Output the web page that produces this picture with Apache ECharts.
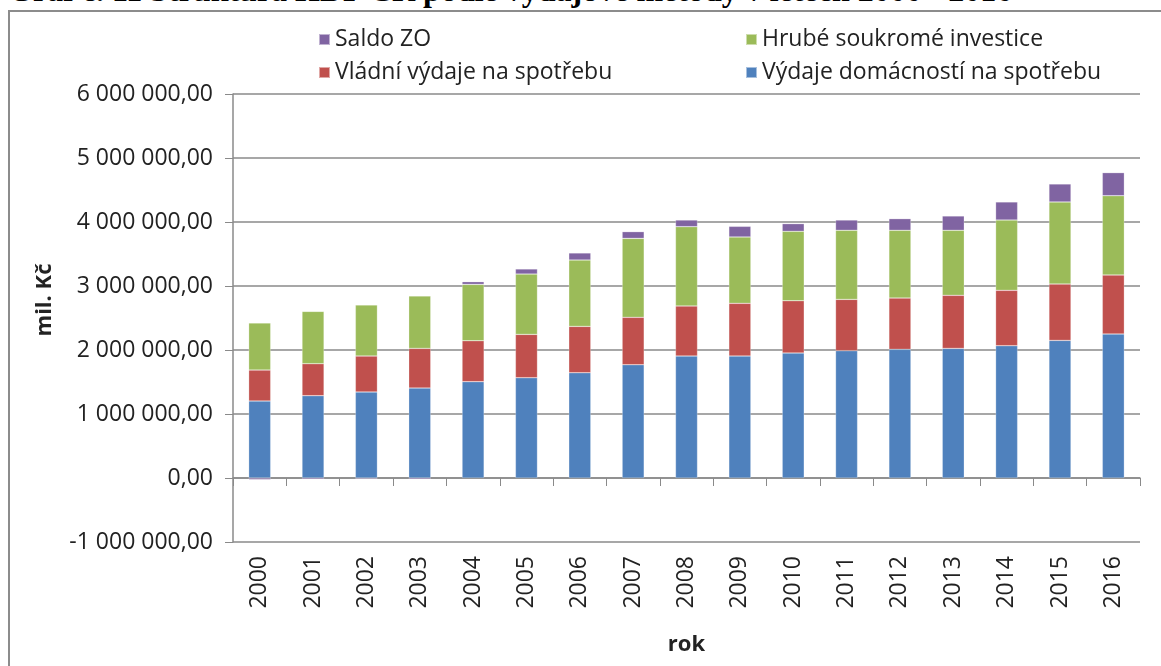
<!DOCTYPE html>
<html>
<head>
<meta charset="utf-8">
<script src="https://cdn.jsdelivr.net/npm/echarts@6/dist/echarts.min.js"></script>
<style>
html,body{margin:0;padding:0;background:#fff;overflow:hidden;}
#title{position:absolute;left:8px;top:-28px;font:bold 32px "Liberation Serif","DejaVu Serif",serif;color:#000;white-space:nowrap;}
#frame{position:absolute;left:8px;top:10px;width:1200px;height:700px;border:2px solid #8c8c8c;box-sizing:border-box;}
#chart{position:absolute;left:0;top:0;width:1161px;height:666px;}
</style>
</head>
<body>
<div id="title">Graf č. 11 Struktura HDP ČR podle výdajové metody v letech 2000 - 2016</div>
<div id="frame"></div>
<div id="chart"></div>
<script>
const years = ['2000','2001','2002','2003','2004','2005','2006','2007','2008','2009','2010','2011','2012','2013','2014','2015','2016'];
const domacnosti = [1203000,1286000,1344000,1406000,1505000,1567000,1645000,1770000,1906000,1906000,1953000,1989000,2010000,2025000,2067000,2150000,2250000];
const vladni = [484000,500000,562000,619000,640000,677000,724000,740000,782000,823000,817000,802000,802000,829000,865000,881000,922000];
const investice = [735000,817000,797000,819000,880000,943000,1037000,1234000,1239000,1037000,1084000,1079000,1058000,1016000,1099000,1282000,1239000];
const saldo = [-25000,-20000,-15000,-20000,42000,79000,110000,105000,104000,166000,120000,161000,182000,224000,282000,281000,360000];

const names = ['Saldo ZO','Hrubé soukromé investice','Vládní výdaje na spotřebu','Výdaje domácností na spotřebu'];
const yAxisTitle = 'mil. Kč';
const xAxisTitle = 'rok';
const colors = {blue:'#4F81BD', red:'#C0504D', green:'#9BBB59', purple:'#8064A2'};

function fmt(v){
  const neg = v < 0;
  let s = Math.abs(Math.round(v)).toString().replace(/\B(?=(\d{3})+(?!\d))/g,' ');
  return (neg?'-':'') + s + ',00';
}

const chart = echarts.init(document.getElementById('chart'));
const FS = 23;
const legendText = {fontFamily:'Open Sans', fontSize:FS, color:'#222'};
const gridColor = '#8a8a8a';
function bar(name, data, color){
  return {name:name, type:'bar', stack:'total', data:data, barWidth:22, xAxisIndex:0,
    itemStyle:{color:color, borderColor:'rgba(255,255,255,0.5)', borderWidth:0.5},
    emphasis:{disabled:true}};
}
chart.setOption({
  animation:false,
  backgroundColor:'transparent',
  legend:[
    {left:313, top:23, orient:'vertical', itemWidth:11, itemHeight:11, itemGap:10,
     icon:'rect', textStyle:legendText, data:[names[0], names[2]]},
    {left:740, top:23, orient:'vertical', itemWidth:11, itemHeight:11, itemGap:10,
     icon:'rect', textStyle:legendText, data:[names[1], names[3]]}
  ],
  graphic:[{
    type:'text', x:45, y:300, rotation:Math.PI/2,
    style:{text:yAxisTitle, fontFamily:'Open Sans', fontWeight:'bold', fontSize:22, fill:'#222',
      align:'center', verticalAlign:'middle'}
  }],
  grid:{left:233, right:21, top:94, bottom:124, containLabel:false, outerBoundsMode:'none'},
  xAxis:[{
    type:'category', data:years, position:'bottom',
    name:xAxisTitle, nameLocation:'middle', nameGap:92,
    nameTextStyle:{fontFamily:'Open Sans', fontWeight:'bold', fontSize:22, color:'#222'},
    axisLine:{show:false, onZero:false},
    axisTick:{show:false},
    axisLabel:{rotate:90, fontFamily:'Open Sans', fontSize:FS, color:'#222', margin:14}
  },{
    type:'category', data:years, position:'bottom',
    axisLine:{show:true, onZero:true, lineStyle:{color:gridColor, width:1.5}},
    axisTick:{show:true, length:8, lineStyle:{color:gridColor}},
    axisLabel:{show:false}
  }],
  yAxis:{
    type:'value', min:-1000000, max:6000000, interval:1000000,
    axisLine:{show:true, lineStyle:{color:gridColor, width:1.5}},
    axisTick:{show:true, length:8, lineStyle:{color:gridColor}},
    splitLine:{show:true, lineStyle:{color:gridColor, width:1.5}},
    axisLabel:{fontFamily:'Open Sans', fontSize:FS, color:'#222', margin:20, formatter:fmt}
  },
  series:[
    bar(names[3], domacnosti, colors.blue),
    bar(names[2], vladni, colors.red),
    bar(names[1], investice, colors.green),
    bar(names[0], saldo, colors.purple)
  ]
});
</script>
</body>
</html>
